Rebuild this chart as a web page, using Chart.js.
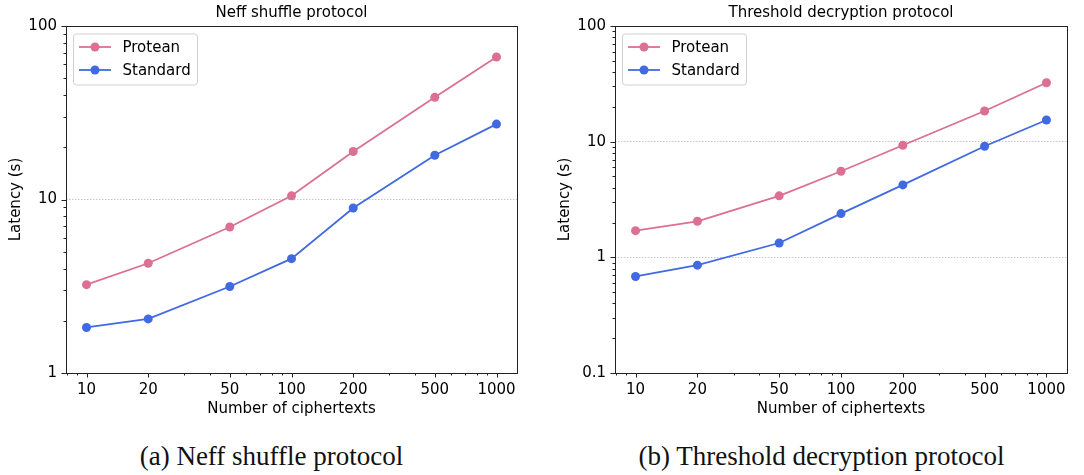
<!DOCTYPE html>
<html>
<head>
<meta charset="utf-8">
<script src="https://cdn.jsdelivr.net/npm/chart.js@4.4.0/dist/chart.umd.min.js"></script>
<style>
  body { margin: 0; background: #fff; width: 1084px; height: 475px; position: relative; overflow: hidden; }
  canvas { position: absolute; top: 0; }
  #c1 { left: 0; }
  #c2 { left: 545px; }
  .cap { position: absolute; top: 441px; font-family: "Liberation Serif", serif; font-size: 27px; color: #111; white-space: nowrap; transform: translateX(-50%); }
</style>
</head>
<body>
<canvas id="c1" width="540" height="420"></canvas>
<canvas id="c2" width="539" height="420"></canvas>
<div class="cap" style="left:271.5px">(a) Neff shuffle protocol</div>
<div class="cap" style="left:821.5px">(b) Threshold decryption protocol</div>
<script>
Chart.defaults.font.family = "DejaVu Sans";
Chart.defaults.font.size = 15;
Chart.defaults.color = '#000';

var ciphertexts = [10, 20, 50, 100, 200, 500, 1000];
var neffProtean = [3.23, 4.29, 6.94, 10.5, 18.9, 38.8, 66.3];
var neffStandard = [1.83, 2.05, 3.15, 4.56, 8.93, 18.0, 27.2];
var thrProtean = [1.70, 2.05, 3.40, 5.55, 9.31, 18.4, 32.3];
var thrStandard = [0.683, 0.856, 1.33, 2.39, 4.23, 9.12, 15.4];
var xTicks = [10, 20, 50, 100, 200, 500, 1000];
var neffYTicks = [1, 10, 100];
var thrYTicks = [0.1, 1, 10, 100];

var pink = '#db7093';
var blue = '#4169e1';

function pts(ys) {
  return ciphertexts.map(function (x, i) { return { x: x, y: ys[i] }; });
}

// spines, tick marks, title and legend drawn on top
var extras = {
  id: 'extras',
  afterDraw: function (chart, args, opts) {
    var c = chart.ctx, ca = chart.chartArea;
    var xs = chart.scales.x, ys = chart.scales.y;
    c.save();
    // ticks
    c.strokeStyle = '#222';
    c.lineWidth = 1;
    function minors(lo, hi) {
      var out = [];
      for (var e = Math.floor(Math.log10(lo)); e <= Math.ceil(Math.log10(hi)); e++) {
        for (var d = 1; d <= 9; d++) {
          var v = d * Math.pow(10, e);
          if (v >= lo && v <= hi) out.push(v);
        }
      }
      return out;
    }
    minors(xs.min, xs.max).forEach(function (v) {
      var len = xTicks.indexOf(v) >= 0 ? 4.5 : 2.5;
      var px = Math.round(xs.getPixelForValue(v)) + 0.5;
      c.beginPath(); c.moveTo(px, ca.bottom); c.lineTo(px, ca.bottom + len); c.stroke();
    });
    minors(ys.min, ys.max).forEach(function (v) {
      var lg = Math.log10(v);
      var len = Math.abs(lg - Math.round(lg)) < 1e-9 ? 4.5 : 2.5;
      var py = Math.round(ys.getPixelForValue(v)) + 0.5;
      c.beginPath(); c.moveTo(ca.left, py); c.lineTo(ca.left - len, py); c.stroke();
    });
    // spines
    c.strokeStyle = '#222';
    c.strokeRect(Math.round(ca.left) + 0.5, Math.round(ca.top) + 0.5,
      Math.round(ca.right - ca.left), Math.round(ca.bottom - ca.top));
    // title
    c.fillStyle = '#000';
    c.font = '15px "DejaVu Sans"';
    c.textAlign = 'center';
    c.textBaseline = 'middle';
    c.fillText(opts.text, (ca.left + ca.right) / 2, 13.5);
    // legend
    var bx = ca.left + 7.5, by = ca.top + 8, bw = 124, bh = 51, r = 3;
    c.beginPath();
    c.moveTo(bx + r, by);
    c.arcTo(bx + bw, by, bx + bw, by + bh, r);
    c.arcTo(bx + bw, by + bh, bx, by + bh, r);
    c.arcTo(bx, by + bh, bx, by, r);
    c.arcTo(bx, by, bx + bw, by, r);
    c.closePath();
    c.fillStyle = 'rgba(255,255,255,0.8)';
    c.fill();
    c.strokeStyle = '#d0d0d0';
    c.stroke();
    c.font = '15px "DejaVu Sans"';
    c.textAlign = 'left';
    chart.data.datasets.forEach(function (ds, i) {
      var yy = by + 13 + i * 23;
      c.strokeStyle = ds.borderColor;
      c.lineWidth = 1.8;
      c.beginPath(); c.moveTo(bx + 5.5, yy); c.lineTo(bx + 37.5, yy); c.stroke();
      c.fillStyle = ds.backgroundColor;
      c.beginPath(); c.arc(bx + 21.5, yy, 4.5, 0, Math.PI * 2); c.fill();
      c.fillStyle = '#000';
      c.fillText(ds.label, bx + 49, yy + 1);
    });
    c.restore();
  }
};

function makeChart(id, title, protean, standard, yMin, yMax, yTicks, yWidth, yTitlePad, rightPad) {
  return new Chart(document.getElementById(id), {
    type: 'line',
    data: {
      datasets: [
        { label: 'Protean', data: pts(protean), borderColor: pink, backgroundColor: pink,
          borderWidth: 1.8, pointRadius: 4.5, pointHoverRadius: 4.5, pointBorderWidth: 0 },
        { label: 'Standard', data: pts(standard), borderColor: blue, backgroundColor: blue,
          borderWidth: 1.8, pointRadius: 4.5, pointHoverRadius: 4.5, pointBorderWidth: 0 }
      ]
    },
    options: {
      responsive: false,
      animation: false,
      layout: { padding: { top: 26, left: 0, right: rightPad, bottom: 0 } },
      plugins: {
        legend: { display: false },
        title: { display: false },
        tooltip: { enabled: false },
        extras: { text: title }
      },
      scales: {
        x: {
          type: 'logarithmic',
          min: 7.943, max: 1258.9,
          afterBuildTicks: function (s) { s.ticks = xTicks.map(function (v) { return { value: v }; }); },
          afterFit: function (s) { s.height = 47; },
          ticks: { padding: 8, autoSkip: false, maxRotation: 0, callback: function (v) { return String(v); } },
          grid: { display: false, drawTicks: false },
          border: { display: false },
          title: { display: true, text: 'Number of ciphertexts', padding: { top: 0, bottom: 2 } }
        },
        y: {
          type: 'logarithmic',
          min: yMin, max: yMax,
          afterBuildTicks: function (s) { s.ticks = yTicks.map(function (v) { return { value: v }; }); },
          afterFit: function (s) { s.width = yWidth; },
          ticks: { padding: 9, autoSkip: false, callback: function (v) { return String(v); } },
          grid: {
            drawTicks: false,
            color: function (ctx) { return ctx.tick && yTicks.indexOf(ctx.tick.value) >= 0 ? '#b8b8b8' : 'rgba(0,0,0,0)'; },
            lineWidth: 0.8
          },
          border: { display: false, dash: [1.5, 1.5] },
          title: { display: true, text: 'Latency (s)', padding: { top: yTitlePad, bottom: 0 } }
        }
      }
    },
    plugins: [extras]
  });
}

makeChart('c1', 'Neff shuffle protocol', neffProtean, neffStandard, 1, 100, neffYTicks, 66, 7, 23);
makeChart('c2', 'Threshold decryption protocol', thrProtean, thrStandard, 0.1, 100, thrYTicks, 70, 11, 17);
</script>
</body>
</html>
